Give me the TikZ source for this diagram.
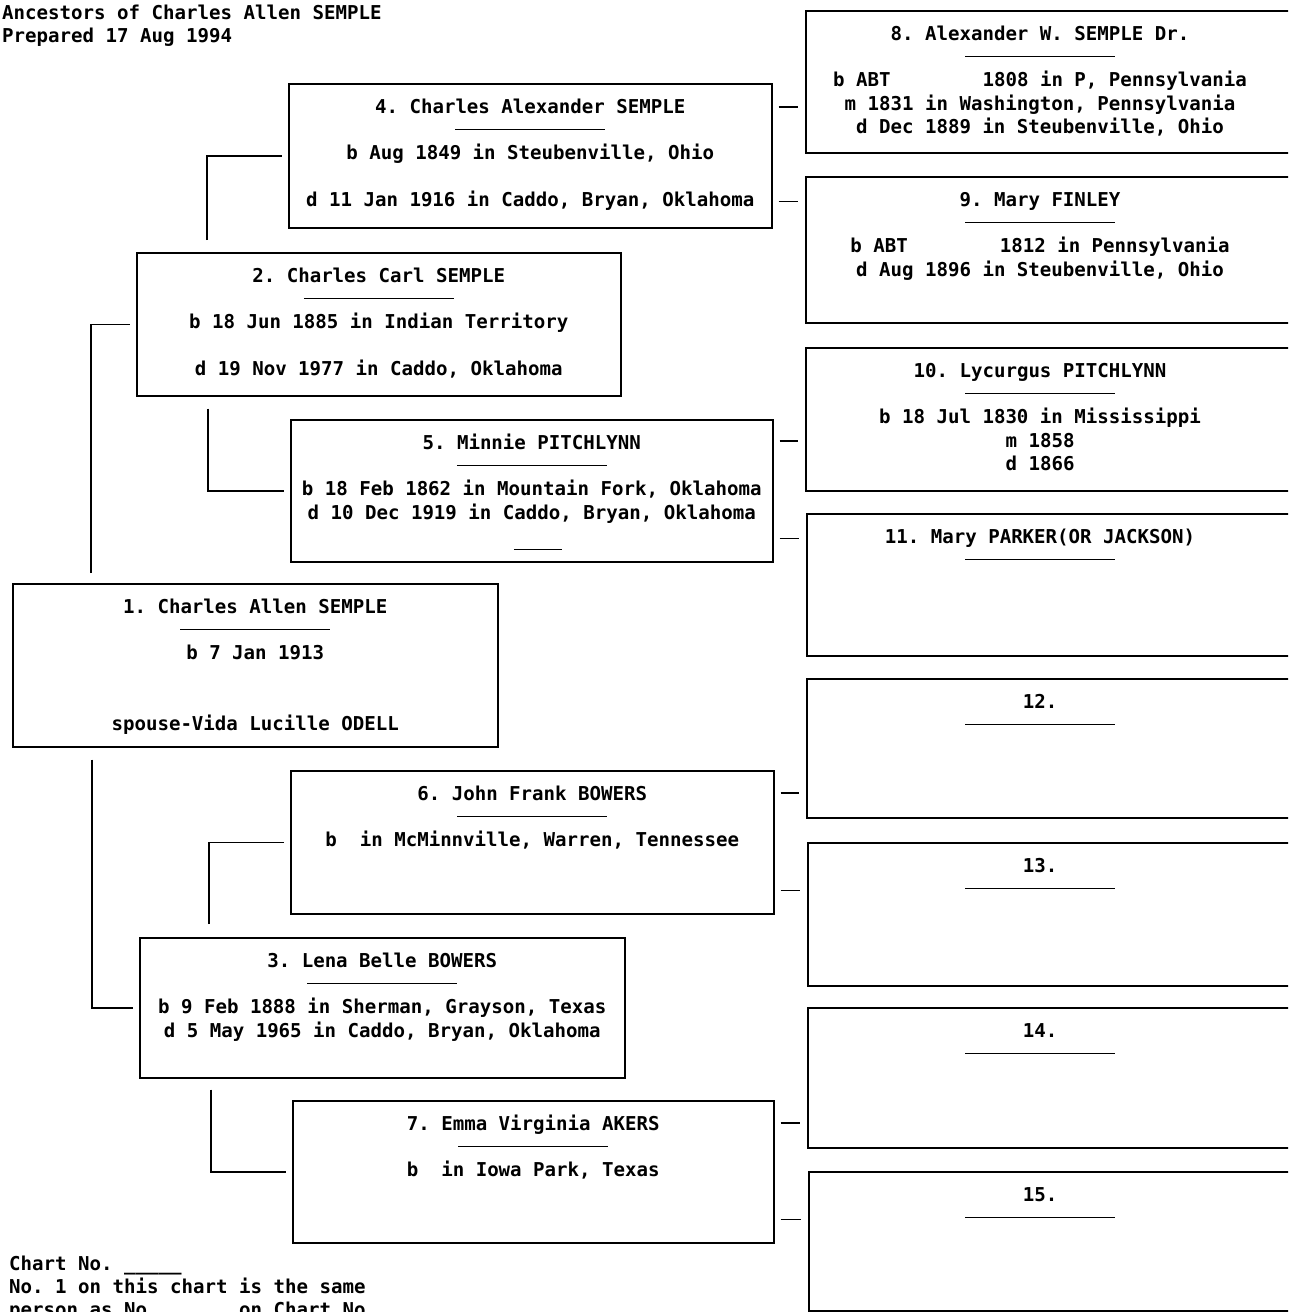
\documentclass[tikz,border=0pt]{standalone}
\usepackage{fontspec}
\setmonofont{DejaVu Sans Mono}
\usetikzlibrary{calc}

\newcommand{\chartfont}{\ttfamily\bfseries\fontsize{19.1}{23.4}\selectfont}
\newcommand{\namerule}{\rule[6.4pt]{150pt}{1.3pt}}

\begin{document}
\begin{tikzpicture}[x=1pt, y=-1pt,
    pbox/.style 2 args={rectangle,
    draw=black, % Box edge.
    line width=1.5pt,
    anchor=north west,
    inner sep=0pt,
    minimum width=#1,
    minimum height=#2},
    ptext/.style={anchor=north,
    align=center,
    inner sep=0pt,
    font=\chartfont},
    plain/.style={anchor=north west, align=left, inner sep=0pt, font=\chartfont},
    conn/.style={line width=1.5pt}]

        \useasboundingbox (0,0) rectangle (1288,1312);
        \clip (0,0) rectangle (1288,1312);

        % Header and footer.
        \node[plain] (head) at (2,2.6) {\strut Ancestors of Charles Allen SEMPLE\\Prepared 17 Aug 1994};
        \node[plain] (foot) at (9,1253.6) {\strut Chart No. \_\_\_\_\_\\No. 1 on this chart is the same\\person as No. \_\_\_\_\_ on Chart No. \_\_\_\_\_};

        % Boxes.
        \node[pbox={485pt}{163pt}] (p1) at (12,583) {};
        \node[pbox={484pt}{143pt}] (p2) at (136,252) {};
        \node[pbox={485pt}{140pt}] (p3) at (139,937) {};
        \node[pbox={483pt}{144pt}] (p4) at (288,83) {};
        \node[pbox={482pt}{142pt}] (p5) at (290,419) {};
        \node[pbox={483pt}{143pt}] (p6) at (290,770) {};
        \node[pbox={481pt}{142pt}] (p7) at (292,1100) {};
        \node[pbox={495pt}{142pt}] (p8) at (805,10) {};
        \node[pbox={495pt}{146pt}] (p9) at (805,176) {};
        \node[pbox={495pt}{143pt}] (p10) at (805,347) {};
        \node[pbox={494pt}{142pt}] (p11) at (806,513) {};
        \node[pbox={494pt}{139pt}] (p12) at (806,678) {};
        \node[pbox={493pt}{143pt}] (p13) at (807,842) {};
        \node[pbox={493pt}{140pt}] (p14) at (807,1007) {};
        \node[pbox={492pt}{139pt}] (p15) at (808,1171) {};

        % Box texts.
        \node[ptext] (t1) at ($(p1.north)+(0,13.6)$) {\strut 1. Charles Allen SEMPLE\\\namerule\\b 7 Jan 1913\\[46.8pt]spouse-Vida Lucille ODELL};
        \node[ptext] (t2) at ($(p2.north)+(0,13.6)$) {\strut 2. Charles Carl SEMPLE\\\namerule\\b 18 Jun 1885 in Indian Territory\\[23.4pt]d 19 Nov 1977 in Caddo, Oklahoma};
        \node[ptext] (t3) at ($(p3.north)+(0,13.6)$) {\strut 3. Lena Belle BOWERS\\\namerule\\b 9 Feb 1888 in Sherman, Grayson, Texas\\d 5 May 1965 in Caddo, Bryan, Oklahoma};
        \node[ptext] (t4) at ($(p4.north)+(0,13.6)$) {\strut 4. Charles Alexander SEMPLE\\\namerule\\b Aug 1849 in Steubenville, Ohio\\[23.4pt]d 11 Jan 1916 in Caddo, Bryan, Oklahoma};
        \node[ptext] (t5) at ($(p5.north)+(0,13.6)$) {\strut 5. Minnie PITCHLYNN\\\namerule\\b 18 Feb 1862 in Mountain Fork, Oklahoma\\d 10 Dec 1919 in Caddo, Bryan, Oklahoma\\\hspace*{12pt}\rule[-7pt]{48pt}{1pt}};
        \node[ptext] (t6) at ($(p6.north)+(0,13.6)$) {\strut 6. John Frank BOWERS\\\namerule\\b\ \ in McMinnville, Warren, Tennessee};
        \node[ptext] (t7) at ($(p7.north)+(0,13.6)$) {\strut 7. Emma Virginia AKERS\\\namerule\\b\ \ in Iowa Park, Texas};
        \node[ptext] (t8) at ($(1040,0 |- p8.north)+(0,13.6)$) {\strut 8. Alexander W. SEMPLE Dr.\\\namerule\\b ABT \phantom{000000} 1808 in P, Pennsylvania\\m 1831 in Washington, Pennsylvania\\d Dec 1889 in Steubenville, Ohio};
        \node[ptext] (t9) at ($(1040,0 |- p9.north)+(0,13.6)$) {\strut 9. Mary FINLEY\\\namerule\\b ABT \phantom{000000} 1812 in Pennsylvania\\d Aug 1896 in Steubenville, Ohio};
        \node[ptext] (t10) at ($(1040,0 |- p10.north)+(0,13.6)$) {\strut 10. Lycurgus PITCHLYNN\\\namerule\\b 18 Jul 1830 in Mississippi\\m 1858\\d 1866};
        \node[ptext] (t11) at ($(1040,0 |- p11.north)+(0,13.6)$) {\strut 11. Mary PARKER(OR JACKSON)\\\namerule};
        \foreach \i in {12,13,14,15}
        \node[ptext] (t\i) at ($(1040,0 |- p\i.north)+(0,13.6)$) {\strut \i.\\\namerule};

        % Elbow connectors to the parents.
        \foreach \a/\b/\c/\dx/\dy in {p1/p2/north west/79/-10, p1/p3/south west/80/12,
            p2/p4/north west/71/-12, p2/p5/south west/72/12,
            p3/p6/north west/70/-13, p3/p7/south west/72/11}
        \draw[conn] ($(\a.\c)+(\dx,\dy)$) |- ($(\b.west)+(-6,0)$);

        % Short connectors to the great-grandparents.
        \foreach \a/\b/\c/\dy in {p4/p8/north east/24, p4/p9/south east/-27,
            p5/p10/north east/22, p5/p11/south east/-24,
            p6/p12/north east/23, p6/p13/south east/-24,
            p7/p14/north east/23, p7/p15/south east/-24}
        \draw[conn] ($(\a.\c)+(6,\dy)$) -- ($(\b.west |- \a.\c)+(-7,\dy)$);
    \end{tikzpicture}
\end{document}
